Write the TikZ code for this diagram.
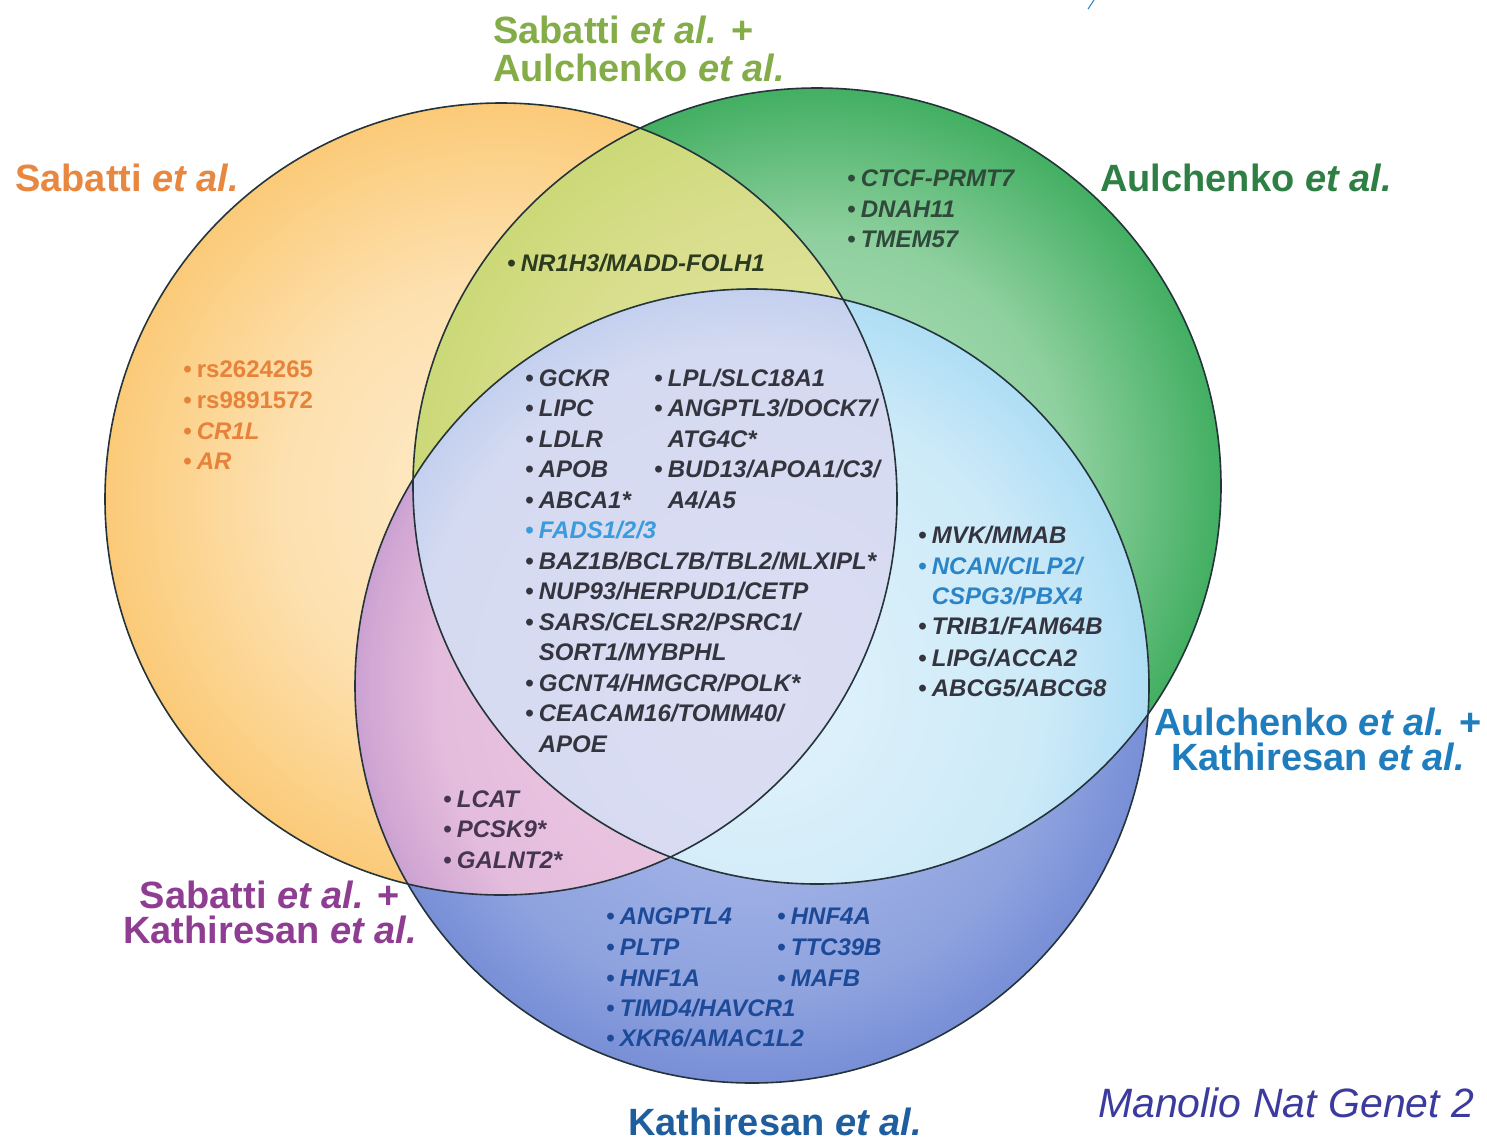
\documentclass[tikz,border=0pt]{standalone}
\usepackage{fontspec}
\setmainfont{Liberation Sans}
\newfontfamily\gfam{Liberation Sans}
% colours
\definecolor{oC}{HTML}{FEEBCB}\definecolor{oC2}{HTML}{FDE0AE}\definecolor{oM}{HTML}{FBCB7A}\definecolor{oM2}{HTML}{F6B040}\definecolor{oE}{HTML}{F09A1A}
\definecolor{gC}{HTML}{B8E2C0}\definecolor{gC2}{HTML}{8FD09F}\definecolor{gM}{HTML}{45B064}\definecolor{gM2}{HTML}{22A050}\definecolor{gE}{HTML}{128E46}
\definecolor{bC}{HTML}{B4C2EE}\definecolor{bC2}{HTML}{8EA2DE}\definecolor{bM}{HTML}{7088D4}\definecolor{bM2}{HTML}{5576CC}\definecolor{bE}{HTML}{3A62C2}
\definecolor{yC}{HTML}{E6E8A8}\definecolor{yC2}{HTML}{D8DE8C}\definecolor{yM}{HTML}{C6D66E}\definecolor{yM2}{HTML}{96C653}\definecolor{yE}{HTML}{4EA83E}
\definecolor{pC}{HTML}{F0D0E6}\definecolor{pC2}{HTML}{E4BCDC}\definecolor{pM}{HTML}{D2A8D4}\definecolor{pM2}{HTML}{A884C6}\definecolor{pM3}{HTML}{8C60B2}\definecolor{pE}{HTML}{7A4EA8}
\definecolor{cC}{HTML}{E2F3FB}\definecolor{cC2}{HTML}{CDEAF8}\definecolor{cM}{HTML}{A6DAF4}\definecolor{cM2}{HTML}{7CC6EE}\definecolor{cE}{HTML}{45AAE4}
\definecolor{tC}{HTML}{DCDDF2}\definecolor{tC2}{HTML}{D4DAF1}\definecolor{tM}{HTML}{B5C8EC}\definecolor{tM2}{HTML}{88B4E8}\definecolor{tE}{HTML}{5CA0DF}
\definecolor{outl}{HTML}{24343A}
\definecolor{cSab}{HTML}{E8873F}\definecolor{cSA}{HTML}{84AC48}\definecolor{cAul}{HTML}{2E7F44}
\definecolor{cAK}{HTML}{1F7DBE}\definecolor{cSK}{HTML}{8E3D92}\definecolor{cKat}{HTML}{1E5E9E}\definecolor{cMan}{HTML}{3B3B9F}
\definecolor{gDark}{HTML}{34343F}\definecolor{gOr}{HTML}{E6823A}\definecolor{gGr}{HTML}{2F4A3A}\definecolor{gNR}{HTML}{2C3A20}
\definecolor{gFads}{HTML}{3A9CDC}\definecolor{gNcan}{HTML}{2A84C6}\definecolor{gPink}{HTML}{463550}\definecolor{gBot}{HTML}{1C4A98}
% stops scaled so that the circle rim lies at about 35.4bp
\pgfdeclareradialshading{shO}{\pgfpoint{0bp}{0bp}}{color(0bp)=(oC); color(14.1bp)=(oC2); color(24.7bp)=(oM); color(31.8bp)=(oM2); color(35.4bp)=(oE); color(50bp)=(oE)}
\pgfdeclareradialshading{shG}{\pgfpoint{0bp}{0bp}}{color(0bp)=(gC); color(15.6bp)=(gC2); color(24.7bp)=(gM); color(31.1bp)=(gM2); color(35.4bp)=(gE); color(50bp)=(gE)}
\pgfdeclareradialshading{shB}{\pgfpoint{0bp}{0bp}}{color(0bp)=(bC); color(19.8bp)=(bC2); color(26.9bp)=(bM); color(32.5bp)=(bM2); color(35.4bp)=(bE); color(50bp)=(bE)}
\pgfdeclareradialshading{shY}{\pgfpoint{0bp}{0bp}}{color(0bp)=(yC); color(17.7bp)=(yC2); color(28.3bp)=(yM); color(32.5bp)=(yM2); color(35.4bp)=(yE); color(50bp)=(yE)}
\pgfdeclareradialshading{shP}{\pgfpoint{0bp}{0bp}}{color(0bp)=(pC); color(19.8bp)=(pC2); color(24bp)=(pM); color(29bp)=(pM2); color(33.2bp)=(pM3); color(35.4bp)=(pE); color(50bp)=(pE)}
\pgfdeclareradialshading{shC}{\pgfpoint{0bp}{0bp}}{color(0bp)=(cC); color(18.4bp)=(cC2); color(26.9bp)=(cM); color(31.8bp)=(cM2); color(35.4bp)=(cE); color(50bp)=(cE)}
\pgfdeclareradialshading{shT}{\pgfpoint{0bp}{0bp}}{color(0bp)=(tC); color(21.2bp)=(tC2); color(28.3bp)=(tM); color(32.5bp)=(tM2); color(35.4bp)=(tE); color(50bp)=(tE)}
\newcommand\mybul{\textbullet\hspace{0.22em}}
\newcommand\mycont{\hphantom{\textbullet\hspace{0.22em}}}
\newcommand\gfont{\gfam\fontsize{24}{30}\selectfont\bfseries\itshape}
\tikzset{
  gene/.style={anchor=base west, inner sep=0pt, font=\gfont},
  lab/.style={inner sep=0pt, font=\fontsize{38}{38}\selectfont\bfseries},
  rim/.style={draw=outl, line width=1.6pt}
}
\begin{document}
\begin{tikzpicture}[x=1pt,y=-1pt]
\useasboundingbox (0,0) rectangle (1487,1144);
\fill[white] (0,0) rectangle (1487,1144);
\coordinate (Oc) at (501,499);
\coordinate (Gc) at (817,486);
\coordinate (Bc) at (752,686);
\def\Opath{(Oc) circle [radius=396pt]}
\def\Gpath{(Gc) ellipse [x radius=404pt, y radius=398pt]}
\def\Bpath{(Bc) circle [radius=397pt]}
% single circles
\shade[shading=shO] \Opath;
\shade[shading=shG] \Gpath;
% orange & green
\begin{scope}\clip \Opath; \shade[shading=shY] \Gpath; \end{scope}
% blue
\shade[shading=shB] \Bpath;
% orange & blue
\begin{scope}\clip \Opath; \shade[shading=shP] \Bpath; \end{scope}
% green & blue
\begin{scope}\clip \Gpath; \shade[shading=shC] \Bpath; \end{scope}
% all three
\begin{scope}\clip \Opath; \clip \Gpath; \shade[shading=shT] \Bpath; \end{scope}
% outlines
\draw[rim] \Opath;
\draw[rim] \Gpath;
\draw[rim] \Bpath;
% small blue mark at top
\coordinate (m1) at (1094,0);
\coordinate (m2) at (1088,9);
\draw[cAK, line width=1pt] (m1) -- (m2);

% ---- set labels ----
\node[lab, anchor=west, text=cSab] (labS) at (15,178) {Sabatti \textit{et al.}};
\node[lab, anchor=west, align=left, text=cSA] (labSA) at (493,49) {Sabatti \textit{et al.} +\\Aulchenko \textit{et al.}};
\node[lab, anchor=west, text=cAul] (labA) at (1100,178) {Aulchenko \textit{et al.}};
\node[lab, align=center, text=cAK, font=\fontsize{38}{35}\selectfont\bfseries] (labAK) at (1318,739) {Aulchenko \textit{et al.} +\\Kathiresan \textit{et al.}};
\node[lab, align=center, text=cSK, font=\fontsize{38}{35}\selectfont\bfseries] (labSK) at (270,912) {Sabatti \textit{et al.} +\\Kathiresan \textit{et al.}};
\node[lab, anchor=west, text=cKat] (labK) at (628,1122) {Kathiresan \textit{et al.}};
\node[inner sep=0pt, anchor=west, text=cMan, font=\fontsize{41}{41}\selectfont\itshape] (cite) at (1098,1103) {Manolio Nat Genet 2};

% ---- genes: Sabatti only ----
\node[gene,text=gOr] (o1) at (183,377) {\mybul\upshape rs2624265};
\node[gene,text=gOr] (o2) at (183,408) {\mybul\upshape rs9891572};
\node[gene,text=gOr] (o3) at (183,439) {\mybul CR1L};
\node[gene,text=gOr] (o4) at (183,469) {\mybul AR};
% Sabatti + Aulchenko
\node[gene,text=gNR] (sa1) at (507,271) {\mybul NR1H3/MADD-FOLH1};
% Aulchenko only
\node[gene,text=gGr] (a1) at (847,186) {\mybul CTCF-PRMT7};
\node[gene,text=gGr] (a2) at (847,217) {\mybul DNAH11};
\node[gene,text=gGr] (a3) at (847,247) {\mybul TMEM57};
% all three, column 1
\node[gene,text=gDark] (c1) at (525,386) {\mybul GCKR};
\node[gene,text=gDark] (c2) at (525,416.5) {\mybul LIPC};
\node[gene,text=gDark] (c3) at (525,447) {\mybul LDLR};
\node[gene,text=gDark] (c4) at (525,477.5) {\mybul APOB};
\node[gene,text=gDark] (c5) at (525,508) {\mybul ABCA1*};
\node[gene,text=gFads] (c6) at (525,538.5) {\mybul FADS1/2/3};
\node[gene,text=gDark] (c7) at (525,569) {\mybul BAZ1B/BCL7B/TBL2/MLXIPL*};
\node[gene,text=gDark] (c8) at (525,599.5) {\mybul NUP93/HERPUD1/CETP};
\node[gene,text=gDark] (c9) at (525,630) {\mybul SARS/CELSR2/PSRC1/};
\node[gene,text=gDark] (c10) at (525,660.5) {\mycont SORT1/MYBPHL};
\node[gene,text=gDark] (c11) at (525,691) {\mybul GCNT4/HMGCR/POLK*};
\node[gene,text=gDark] (c12) at (525,721.5) {\mybul CEACAM16/TOMM40/};
\node[gene,text=gDark] (c13) at (525,752) {\mycont APOE};
% all three, column 2
\node[gene,text=gDark] (d1) at (654,386) {\mybul LPL/SLC18A1};
\node[gene,text=gDark] (d2) at (654,416.5) {\mybul ANGPTL3/DOCK7/};
\node[gene,text=gDark] (d3) at (654,447) {\mycont ATG4C*};
\node[gene,text=gDark] (d4) at (654,477.5) {\mybul BUD13/APOA1/C3/};
\node[gene,text=gDark] (d5) at (654,508) {\mycont A4/A5};
% Aulchenko + Kathiresan
\node[gene,text=gDark] (r1) at (918,543) {\mybul MVK/MMAB};
\node[gene,text=gNcan] (r2) at (918,574) {\mybul NCAN/CILP2/};
\node[gene,text=gNcan] (r3) at (918,604) {\mycont CSPG3/PBX4};
\node[gene,text=gDark] (r4) at (918,634) {\mybul TRIB1/FAM64B};
\node[gene,text=gDark] (r5) at (918,666) {\mybul LIPG/ACCA2};
\node[gene,text=gDark] (r6) at (918,696) {\mybul ABCG5/ABCG8};
% Sabatti + Kathiresan
\node[gene,text=gPink] (p1) at (443,807) {\mybul LCAT};
\node[gene,text=gPink] (p2) at (443,837) {\mybul PCSK9*};
\node[gene,text=gPink] (p3) at (443,868) {\mybul GALNT2*};
% Kathiresan only
\node[gene,text=gBot] (k1) at (606,924) {\mybul ANGPTL4};
\node[gene,text=gBot] (k2) at (606,955) {\mybul PLTP};
\node[gene,text=gBot] (k3) at (606,986) {\mybul HNF1A};
\node[gene,text=gBot] (k4) at (606,1016) {\mybul TIMD4/HAVCR1};
\node[gene,text=gBot] (k5) at (606,1046) {\mybul XKR6/AMAC1L2};
\node[gene,text=gBot] (k6) at (777,924) {\mybul HNF4A};
\node[gene,text=gBot] (k7) at (777,955) {\mybul TTC39B};
\node[gene,text=gBot] (k8) at (777,986) {\mybul MAFB};
\end{tikzpicture}
\end{document}
